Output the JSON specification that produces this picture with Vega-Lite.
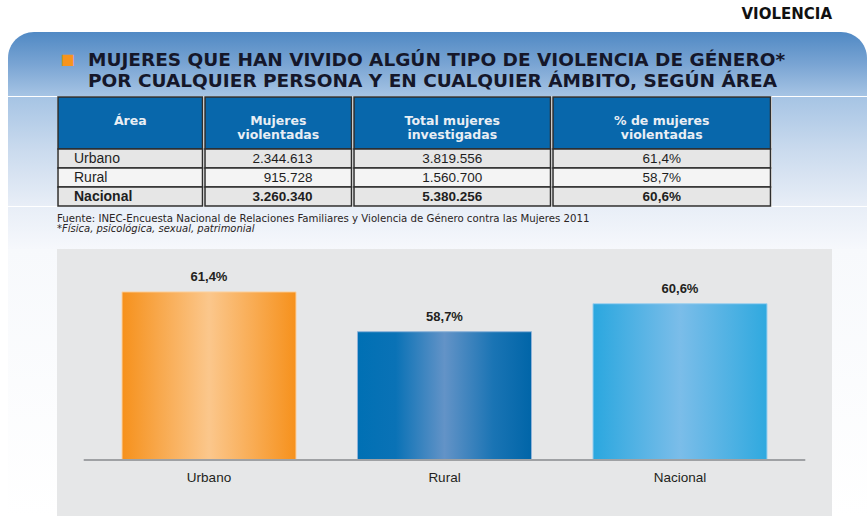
{
  "$schema": "https://vega.github.io/schema/vega-lite/v6.json",
  "padding": {"left": 8, "top": 7, "right": 0, "bottom": 0},
  "background": "#ffffff",
  "title": {"text": "VIOLENCIA", "anchor": "end", "font": "DejaVu Sans", "fontSize": 15, "fontWeight": "bold", "color": "#111111", "dx": -45, "offset": 10, "frame": "bounds"},
  "config": {"view": {"stroke": null}, "concat": {"spacing": 0}, "font": "Liberation Sans"},
  "datasets": {
    "panel": [{"p": 1}],
    "titulo": [
      {"texto": "MUJERES QUE HAN VIVIDO ALGÚN TIPO DE VIOLENCIA DE GÉNERO*\nPOR CUALQUIER PERSONA Y EN CUALQUIER ÁMBITO, SEGÚN ÁREA"}
    ],
    "cabecera": [
      {"col": "a", "texto": "Área"},
      {"col": "b", "texto": "Mujeres\nviolentadas"},
      {"col": "c", "texto": "Total mujeres\ninvestigadas"},
      {"col": "d", "texto": "% de mujeres\nviolentadas"}
    ],
    "tabla": [
      {"fila": 1, "area": "Urbano", "mujeres": "2.344.613", "total": "3.819.556", "porcentaje": "61,4%", "pct": 61.4},
      {"fila": 2, "area": "Rural", "mujeres": "915.728", "total": "1.560.700", "porcentaje": "58,7%", "pct": 58.7},
      {"fila": 3, "area": "Nacional", "mujeres": "3.260.340", "total": "5.380.256", "porcentaje": "60,6%", "pct": 60.6}
    ],
    "notas": [
      {"n": 1, "texto": "Fuente: INEC-Encuesta Nacional de Relaciones Familiares y Violencia de Género contra las Mujeres 2011"},
      {"n": 2, "texto": "*Física, psicológica, sexual, patrimonial"}
    ]
  },
  "vconcat": [
    {
      "width": 859, "height": 64,
      "layer": [
        {"data": {"name": "panel"}, "mark": {"type": "rect", "cornerRadiusTopLeft": 26, "cornerRadiusTopRight": 26, "color": {"gradient": "linear", "x1": 0, "y1": 0, "x2": 0, "y2": 1, "stops": [{"offset": 0, "color": "#5089c4"}, {"offset": 0.5, "color": "#79a4d3"}, {"offset": 1, "color": "#a6c4e4"}]}}, "encoding": {}},
        {"data": {"name": "titulo"}, "mark": {"type": "text", "text": "■", "align": "left", "baseline": "middle", "dx": 53, "dy": -4.5, "fontSize": 23, "color": "#f7941d"},
         "encoding": {"x": {"datum": "t", "type": "nominal", "axis": null, "bandPosition": 0, "scale": {"type": "band", "paddingInner": 0, "paddingOuter": 0}}}},
        {"data": {"name": "titulo"}, "mark": {"type": "text", "align": "left", "dx": 80, "dy": -4.5, "baseline": "middle", "lineBreak": "\n", "lineHeight": 21.5, "font": "DejaVu Sans", "fontSize": 18.5, "fontWeight": "bold", "color": "#15172a"},
         "encoding": {"x": {"datum": "t", "type": "nominal", "axis": null, "bandPosition": 0, "scale": {"type": "band", "paddingInner": 0, "paddingOuter": 0}}, "text": {"field": "texto"}}}
      ]
    },
    {
      "hconcat": [
        {"width": 49, "height": 109, "data": {"name": "panel"}, "mark": {"type": "rect", "color": {"gradient": "linear", "x1": 0, "y1": 0, "x2": 0, "y2": 1, "stops": [{"offset": 0, "color": "#a6c4e4"}, {"offset": 0.5, "color": "#cbdbee"}, {"offset": 1, "color": "#e8eef7"}]}}, "encoding": {}},
        {
          "vconcat": [
            {"width": 144.5, "height": 52, "data": {"name": "cabecera"}, "transform": [{"filter": "datum.col == 'a'"}],
             "layer": [
               {"mark": {"type": "rect", "fill": "#0867ab", "stroke": "#2e2e2e", "strokeWidth": 1.5}, "encoding": {}},
               {"mark": {"type": "text", "font": "DejaVu Sans", "color": "#e9eef4", "fontWeight": "bold", "fontSize": 12.5, "lineBreak": "\n", "lineHeight": 13.5, "dy": -2}, "encoding": {"text": {"field": "texto"}}}
             ]},
            {"width": 144.5, "height": 57, "data": {"name": "tabla"},
             "layer": [
               {"mark": {"type": "rect", "stroke": "#2e2e2e", "strokeWidth": 1.5}, "encoding": {"y": {"field": "fila", "type": "ordinal", "axis": null, "scale": {"type": "band", "paddingInner": 0, "paddingOuter": 0}}, "fill": {"field": "fila", "type": "ordinal", "legend": null, "scale": {"range": ["#e6e6e6", "#f4f4f4", "#e6e6e6"]}}}},
               {"transform": [{"filter": "datum.fila < 3"}], "mark": {"type": "text", "align": "left", "dx": 16, "fontSize": 14, "color": "#1e1e1e"}, "encoding": {"x": {"datum": "c", "type": "nominal", "axis": null, "bandPosition": 0, "scale": {"type": "band", "paddingInner": 0, "paddingOuter": 0}}, "y": {"field": "fila", "type": "ordinal"}, "text": {"field": "area"}}},
               {"transform": [{"filter": "datum.fila == 3"}], "mark": {"type": "text", "align": "left", "dx": 16, "fontSize": 14, "fontWeight": "bold", "color": "#1e1e1e"}, "encoding": {"x": {"datum": "c", "type": "nominal", "axis": null, "bandPosition": 0}, "y": {"field": "fila", "type": "ordinal"}, "text": {"field": "area"}}}
             ]}
          ], "spacing": 0, "bounds": "flush"
        },
        {
          "vconcat": [
            {"width": 146.5, "height": 52, "data": {"name": "cabecera"}, "transform": [{"filter": "datum.col == 'b'"}],
             "layer": [
               {"mark": {"type": "rect", "fill": "#0867ab", "stroke": "#2e2e2e", "strokeWidth": 1.5}, "encoding": {}},
               {"mark": {"type": "text", "font": "DejaVu Sans", "color": "#e9eef4", "fontWeight": "bold", "fontSize": 12.5, "lineBreak": "\n", "lineHeight": 13.5, "dy": -2}, "encoding": {"text": {"field": "texto"}}}
             ]},
            {"width": 146.5, "height": 57, "data": {"name": "tabla"},
             "layer": [
               {"mark": {"type": "rect", "stroke": "#2e2e2e", "strokeWidth": 1.5}, "encoding": {"y": {"field": "fila", "type": "ordinal", "axis": null, "scale": {"type": "band", "paddingInner": 0, "paddingOuter": 0}}, "fill": {"field": "fila", "type": "ordinal", "legend": null, "scale": {"range": ["#e6e6e6", "#f4f4f4", "#e6e6e6"]}}}},
               {"transform": [{"filter": "datum.fila < 3"}], "mark": {"type": "text", "align": "right", "dx": -39, "fontSize": 13.5, "color": "#1e1e1e"}, "encoding": {"x": {"datum": "c", "type": "nominal", "axis": null, "bandPosition": 1, "scale": {"type": "band", "paddingInner": 0, "paddingOuter": 0}}, "y": {"field": "fila", "type": "ordinal"}, "text": {"field": "mujeres"}}},
               {"transform": [{"filter": "datum.fila == 3"}], "mark": {"type": "text", "align": "right", "dx": -39, "fontSize": 13.5, "fontWeight": "bold", "color": "#1e1e1e"}, "encoding": {"x": {"datum": "c", "type": "nominal", "axis": null, "bandPosition": 1}, "y": {"field": "fila", "type": "ordinal"}, "text": {"field": "mujeres"}}}
             ]}
          ], "spacing": 0, "bounds": "flush"
        },
        {
          "vconcat": [
            {"width": 196.5, "height": 52, "data": {"name": "cabecera"}, "transform": [{"filter": "datum.col == 'c'"}],
             "layer": [
               {"mark": {"type": "rect", "fill": "#0867ab", "stroke": "#2e2e2e", "strokeWidth": 1.5}, "encoding": {}},
               {"mark": {"type": "text", "font": "DejaVu Sans", "color": "#e9eef4", "fontWeight": "bold", "fontSize": 12.5, "lineBreak": "\n", "lineHeight": 13.5, "dy": -2}, "encoding": {"text": {"field": "texto"}}}
             ]},
            {"width": 196.5, "height": 57, "data": {"name": "tabla"},
             "layer": [
               {"mark": {"type": "rect", "stroke": "#2e2e2e", "strokeWidth": 1.5}, "encoding": {"y": {"field": "fila", "type": "ordinal", "axis": null, "scale": {"type": "band", "paddingInner": 0, "paddingOuter": 0}}, "fill": {"field": "fila", "type": "ordinal", "legend": null, "scale": {"range": ["#e6e6e6", "#f4f4f4", "#e6e6e6"]}}}},
               {"transform": [{"filter": "datum.fila < 3"}], "mark": {"type": "text", "fontSize": 13.5, "color": "#1e1e1e"}, "encoding": {"y": {"field": "fila", "type": "ordinal"}, "text": {"field": "total"}}},
               {"transform": [{"filter": "datum.fila == 3"}], "mark": {"type": "text", "fontSize": 13.5, "fontWeight": "bold", "color": "#1e1e1e"}, "encoding": {"y": {"field": "fila", "type": "ordinal"}, "text": {"field": "total"}}}
             ]}
          ], "spacing": 0, "bounds": "flush"
        },
        {
          "vconcat": [
            {"width": 217.5, "height": 52, "data": {"name": "cabecera"}, "transform": [{"filter": "datum.col == 'd'"}],
             "layer": [
               {"mark": {"type": "rect", "fill": "#0867ab", "stroke": "#2e2e2e", "strokeWidth": 1.5}, "encoding": {}},
               {"mark": {"type": "text", "font": "DejaVu Sans", "color": "#e9eef4", "fontWeight": "bold", "fontSize": 12.5, "lineBreak": "\n", "lineHeight": 13.5, "dy": -2}, "encoding": {"text": {"field": "texto"}}}
             ]},
            {"width": 217.5, "height": 57, "data": {"name": "tabla"},
             "layer": [
               {"mark": {"type": "rect", "stroke": "#2e2e2e", "strokeWidth": 1.5}, "encoding": {"y": {"field": "fila", "type": "ordinal", "axis": null, "scale": {"type": "band", "paddingInner": 0, "paddingOuter": 0}}, "fill": {"field": "fila", "type": "ordinal", "legend": null, "scale": {"range": ["#e6e6e6", "#f4f4f4", "#e6e6e6"]}}}},
               {"transform": [{"filter": "datum.fila < 3"}], "mark": {"type": "text", "fontSize": 13.5, "color": "#1e1e1e"}, "encoding": {"y": {"field": "fila", "type": "ordinal"}, "text": {"field": "porcentaje"}}},
               {"transform": [{"filter": "datum.fila == 3"}], "mark": {"type": "text", "fontSize": 13.5, "fontWeight": "bold", "color": "#1e1e1e"}, "encoding": {"y": {"field": "fila", "type": "ordinal"}, "text": {"field": "porcentaje"}}}
             ]}
          ], "spacing": 0, "bounds": "flush"
        },
        {"width": 105, "height": 109, "data": {"name": "panel"}, "mark": {"type": "rect", "color": {"gradient": "linear", "x1": 0, "y1": 0, "x2": 0, "y2": 1, "stops": [{"offset": 0, "color": "#a6c4e4"}, {"offset": 0.5, "color": "#cbdbee"}, {"offset": 1, "color": "#e8eef7"}]}}, "encoding": {}}
      ],
      "spacing": 0
    },
    {
      "width": 859, "height": 42,
      "layer": [
        {"data": {"name": "panel"}, "mark": {"type": "rect", "color": {"gradient": "linear", "x1": 0, "y1": 0, "x2": 0, "y2": 1, "stops": [{"offset": 0, "color": "#e8eef7"}, {"offset": 1, "color": "#f6f8fc"}]}}, "encoding": {}},
        {"data": {"name": "notas"}, "transform": [{"filter": "datum.n == 1"}], "mark": {"type": "text", "align": "left", "dx": 49, "font": "DejaVu Sans", "fontSize": 10.2, "color": "#2a2424"},
         "encoding": {"x": {"datum": "t", "type": "nominal", "axis": null, "bandPosition": 0, "scale": {"type": "band", "paddingInner": 0, "paddingOuter": 0}}, "y": {"field": "n", "type": "quantitative", "axis": null, "scale": {"domain": [-0.15, 4.05], "reverse": true, "nice": false, "zero": false}}, "text": {"field": "texto"}}},
        {"data": {"name": "notas"}, "transform": [{"filter": "datum.n == 2"}], "mark": {"type": "text", "align": "left", "dx": 49, "font": "DejaVu Sans", "fontSize": 10, "fontStyle": "italic", "color": "#2a2424"},
         "encoding": {"x": {"datum": "t", "type": "nominal", "axis": null, "bandPosition": 0, "scale": {"type": "band", "paddingInner": 0, "paddingOuter": 0}}, "y": {"field": "n", "type": "quantitative", "axis": null}, "text": {"field": "texto"}}}
      ]
    },
    {
      "hconcat": [
        {"width": 49, "height": 267, "data": {"name": "panel"}, "mark": {"type": "rect", "color": {"gradient": "linear", "x1": 0, "y1": 0, "x2": 0, "y2": 1, "stops": [{"offset": 0, "color": "#f7f9fc"}, {"offset": 1, "color": "#ffffff"}]}}, "encoding": {}},
        {
          "width": 775, "height": 267,
          "view": {"fill": "#e6e7e8", "stroke": null},
          "data": {"name": "tabla"},
          "encoding": {
            "x": {"field": "area", "type": "nominal", "scale": {"type": "band", "domain": ["Urbano", "Rural", "Nacional"], "paddingInner": 0.261, "paddingOuter": 0.276},
                  "axis": {"title": null, "domain": false, "ticks": false, "labelAngle": 0, "labelFontSize": 13.5, "labelColor": "#231f20", "labelFont": "Liberation Sans", "labelPadding": 10, "offset": -56}}
          },
          "layer": [
            {"transform": [{"filter": "datum.area == 'Urbano'"}],
             "mark": {"type": "bar", "stroke": "#fbd3a6", "strokeWidth": 1, "color": {"gradient": "linear", "x1": 0, "y1": 0, "x2": 1, "y2": 0, "stops": [{"offset": 0, "color": "#f6911c"}, {"offset": 0.5, "color": "#fbc78c"}, {"offset": 1, "color": "#f6911c"}]}},
             "encoding": {"y": {"field": "pct", "type": "quantitative", "axis": null, "scale": {"domain": [46.2, 64.31], "nice": false, "zero": false}}, "y2": {"datum": 50}}},
            {"transform": [{"filter": "datum.area == 'Rural'"}],
             "mark": {"type": "bar", "stroke": "#8fb3d8", "strokeWidth": 1, "color": {"gradient": "linear", "x1": 0, "y1": 0, "x2": 1, "y2": 0, "stops": [{"offset": 0, "color": "#0070b4"}, {"offset": 0.22, "color": "#0a72b6"}, {"offset": 0.5, "color": "#6393c7"}, {"offset": 0.78, "color": "#1a74b4"}, {"offset": 1, "color": "#0065a8"}]}},
             "encoding": {"y": {"field": "pct", "type": "quantitative"}, "y2": {"datum": 50}}},
            {"transform": [{"filter": "datum.area == 'Nacional'"}],
             "mark": {"type": "bar", "stroke": "#9fd0ee", "strokeWidth": 1, "color": {"gradient": "linear", "x1": 0, "y1": 0, "x2": 1, "y2": 0, "stops": [{"offset": 0, "color": "#2aa7df"}, {"offset": 0.5, "color": "#7bbde9"}, {"offset": 1, "color": "#2fa9df"}]}},
             "encoding": {"y": {"field": "pct", "type": "quantitative"}, "y2": {"datum": 50}}},
            {"mark": {"type": "rule", "color": "#9fa1a4", "strokeWidth": 2},
             "encoding": {"x": {"field": "area", "type": "nominal", "bandPosition": -0.22}, "x2": {"field": "area", "bandPosition": 1.22}, "y": {"datum": 50, "type": "quantitative"}}},
            {"mark": {"type": "text", "fontWeight": "bold", "fontSize": 13, "color": "#231f20", "dy": -15},
             "encoding": {"y": {"field": "pct", "type": "quantitative"}, "text": {"field": "porcentaje"}}}
          ]
        },
        {"width": 35, "height": 267, "data": {"name": "panel"}, "mark": {"type": "rect", "color": {"gradient": "linear", "x1": 0, "y1": 0, "x2": 0, "y2": 1, "stops": [{"offset": 0, "color": "#f7f9fc"}, {"offset": 1, "color": "#ffffff"}]}}, "encoding": {}}
      ],
      "spacing": 0, "bounds": "flush"
    }
  ],
  "spacing": 0
}
